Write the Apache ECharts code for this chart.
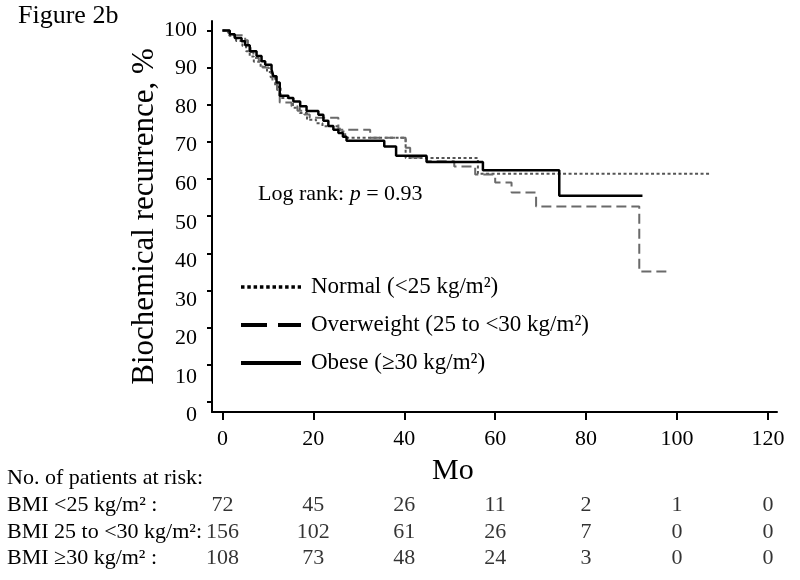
<!DOCTYPE html>
<html><head><meta charset="utf-8">
<script src="https://cdn.jsdelivr.net/npm/echarts@6/dist/echarts.min.js"></script>
<style>html,body{margin:0;padding:0;background:#fff}#c{width:800px;height:580px}</style>
</head><body><div id="c"></div>
<script>
const FONT = '"Liberation Serif", "Times New Roman", serif';
const seriesNames = ['Normal (<25 kg/m²)', 'Overweight (25 to <30 kg/m²)', 'Obese (≥30 kg/m²)'];

// Kaplan-Meier step data (months, % free of biochemical recurrence)
const normalTimes = [0,1.5,3.0,4.4,5.2,6.0,6.9,8.4,9.8,10.6,11.6,12.8,15.5,17.0,18.6,20.6,22.0,25.8,27.0,40.3,56.2,107.3];
const normalSurv  = [100,98.6,97.2,95.8,94.4,93.0,91.6,90.2,88.8,87.4,84.8,81.8,79.2,77.8,76.0,75.0,74.2,72.8,71.1,65.7,61.4,61.4];

const overTimes = [0,1.2,2.4,5.0,5.6,6.2,6.8,8.0,8.8,10.2,11.0,12.0,12.6,15.2,16.5,18.0,19.2,25.5,32.5,40.3,41.3,45.0,51.0,55.6,60.0,63.6,69.0,91.7,98.3];
const overSurv  = [100,99.4,98.7,97.4,95.5,94.2,92.6,91.8,90.0,88.6,86.5,84.0,80.6,79.6,78.4,77.4,76.5,73.3,71.1,68.4,65.8,64.8,63.4,61.2,59.1,56.4,52.6,35.1,35.1];

const obeseTimes = [0,1.6,2.7,4.2,5.0,6.0,7.5,8.6,9.4,10.8,11.2,11.9,12.6,14.5,15.6,17.1,18.5,21.1,22.2,23.3,24.4,25.5,26.5,27.3,35.6,38.2,44.9,57.3,74.1,92.4];
const obeseSurv  = [100,99.0,98.0,97.1,96.0,94.4,93.1,91.7,90.8,89.5,87.7,86.0,82.4,81.8,80.9,79.6,78.3,77.3,75.7,74.3,73.3,72.4,71.4,70.3,68.8,66.3,64.6,62.4,55.5,55.5];

const xTickValues = [0,20,40,60,80,100,120];
const yTickValues = [0,10,20,30,40,50,60,70,80,90,100];

// Number at risk table
const riskTitle = 'No. of patients at risk:';
const riskTimes = [0,20,40,60,80,100,120];
const riskRowLabels = ['BMI <25 kg/m² :', 'BMI 25 to <30 kg/m²:', 'BMI ≥30 kg/m² :'];
const riskNormal = [72,45,26,11,2,1,0];
const riskOverweight = [156,102,61,26,7,0,0];
const riskObese = [108,73,48,24,3,0,0];

const zip = (t, s) => t.map((v, i) => [v, s[i]]);
const riskRows = [riskNormal, riskOverweight, riskObese];

const chart = echarts.init(document.getElementById('c'), null, {renderer: 'canvas'});
const txt = {fontFamily: FONT, color: '#000'};

const riskSeries = riskRows.map((row, i) => ({
  type: 'scatter', xAxisIndex: 1, yAxisIndex: 1, symbolSize: 0, silent: true,
  data: riskTimes.map((t, j) => [t, riskRowLabels[i], row[j]]),
  label: {show: true, position: 'inside', formatter: p => String(p.value[2]), ...txt, fontSize: 22}
}));

chart.setOption({
  animation: false,
  backgroundColor: '#fff',
  title: {text: 'Figure 2b', left: 18, top: 3, padding: 0,
    textStyle: {...txt, fontSize: 26, fontWeight: 'normal'}},
  grid: [
    {left: 212, right: 23, top: 21, bottom: 168, outerBoundsMode: 'none'},
    {left: 212, right: 23, top: 492, height: 80, outerBoundsMode: 'none'},
    {left: 212, right: 23, top: 30, height: 385.5, outerBoundsMode: 'none'}
  ],
  xAxis: [
    {gridIndex: 0, type: 'value', min: -2.3, max: 122,
      axisLine: {show: true, onZero: false, lineStyle: {color: '#000', width: 2}},
      axisTick: {show: true, customValues: xTickValues, length: 8, lineStyle: {color: '#000', width: 2}},
      axisLabel: {customValues: xTickValues, ...txt, fontSize: 22, margin: 16},
      splitLine: {show: false}},
    {gridIndex: 1, type: 'value', min: -2.3, max: 122, show: false},
    {gridIndex: 2, type: 'value', min: -2.3, max: 122, show: false}
  ],
  yAxis: [
    {gridIndex: 0, type: 'value', min: -2.7, max: 102.55,
      name: 'Biochemical recurrence, %', nameLocation: 'middle', nameGap: 52, nameRotate: 90,
      nameTextStyle: {...txt, fontSize: 31},
      axisLine: {show: true, onZero: false, lineStyle: {color: '#000', width: 2}},
      axisTick: {show: true, customValues: yTickValues, length: 5, lineStyle: {color: '#000', width: 2}},
      axisLabel: {show: false}, splitLine: {show: false}},
    {gridIndex: 1, type: 'category', data: riskRowLabels, inverse: true,
      axisLine: {show: false}, axisTick: {show: false}, splitLine: {show: false},
      axisLabel: {interval: 0, hideOverlap: false, align: 'left', margin: 205, ...txt, fontSize: 22}},
    {gridIndex: 2, type: 'value', min: 0, max: 100, interval: 10,
      axisLine: {show: false}, axisTick: {show: false}, splitLine: {show: false},
      axisLabel: {...txt, fontSize: 22, margin: 15}}
  ],
  legend: {
    orient: 'vertical', left: 239, top: 275, itemWidth: 60, itemHeight: 14, itemGap: 14,
    selectedMode: false, padding: 0,
    textStyle: {...txt, fontSize: 23, lineHeight: 24, padding: [0, 0, 0, 5]},
    data: [
      {name: seriesNames[0], itemStyle: {opacity: 0}, lineStyle: {color: '#000', width: 3.5, type: [3.5, 2.8]}},
      {name: seriesNames[1], itemStyle: {opacity: 0}, lineStyle: {color: '#000', width: 4, type: [26, 11]}},
      {name: seriesNames[2], itemStyle: {opacity: 0}, lineStyle: {color: '#000', width: 4, type: 'solid'}}
    ]
  },
  graphic: [
    {type: 'text', left: 258, top: 183, style: {
      text: '{a|Log rank: }{b|p}{a| = 0.93}',
      rich: {a: {fontFamily: FONT, fontSize: 22, fill: '#000'}, b: {fontFamily: FONT, fontSize: 22, fontStyle: 'italic', fill: '#000'}}}},
    {type: 'text', left: 432, top: 456, style: {text: 'Mo', fontFamily: FONT, fontSize: 30, fill: '#000'}},
    {type: 'text', left: 7, top: 467, style: {text: riskTitle, fontFamily: FONT, fontSize: 22, fill: '#000'}}
  ],
  series: [
    {type: 'line', name: seriesNames[0], xAxisIndex: 0, yAxisIndex: 0, step: 'end', symbol: 'none', silent: true,
      data: zip(normalTimes, normalSurv), lineStyle: {color: '#555', width: 2, type: [3, 2.5]}, z: 2},
    {type: 'line', name: seriesNames[1], xAxisIndex: 0, yAxisIndex: 0, step: 'end', symbol: 'none', silent: true,
      data: zip(overTimes, overSurv), lineStyle: {color: '#6a6a6a', width: 2, type: [10, 5]}, z: 3},
    {type: 'line', name: seriesNames[2], xAxisIndex: 0, yAxisIndex: 0, step: 'end', symbol: 'none', silent: true,
      data: zip(obeseTimes, obeseSurv), lineStyle: {color: '#000', width: 2.5, type: 'solid'}, z: 4},
    ...riskSeries
  ]
});
</script></body></html>
